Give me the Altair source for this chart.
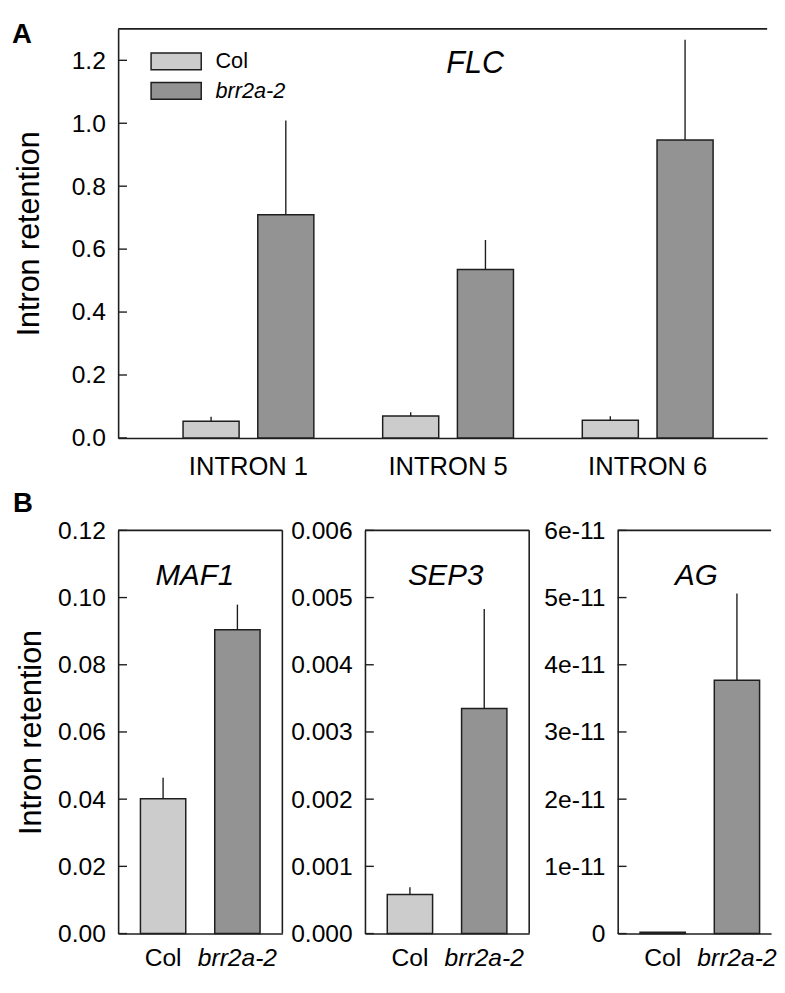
import altair as alt
import pandas as pd

# ---------------- data ----------------
genotypes = ["Col", "brr2a-2"]
introns = ["INTRON 1", "INTRON 5", "INTRON 6"]

flc_col = [0.053, 0.070, 0.056]
flc_col_err = [0.014, 0.012, 0.013]
flc_brr = [0.709, 0.535, 0.947]
flc_brr_err = [0.300, 0.094, 0.318]
flc_ticks = [0.0, 0.2, 0.4, 0.6, 0.8, 1.0, 1.2]

maf1_vals = [0.0401, 0.0904]
maf1_err = [0.0063, 0.0075]
maf1_ticks = [0.0, 0.02, 0.04, 0.06, 0.08, 0.10, 0.12]

sep3_vals = [0.00058, 0.00335]
sep3_err = [0.00011, 0.00148]
sep3_ticks = [0.0, 0.001, 0.002, 0.003, 0.004, 0.005, 0.006]

ag_vals = [2e-13, 3.77e-11]
ag_err = [0.0, 1.29e-11]
ag_ticks = [0.0, 1e-11, 2e-11, 3e-11, 4e-11, 5e-11, 6e-11]

bar_colors = ["#cccccc", "#939393"]
INK = "#1e1e1e"
FONT = "Liberation Sans"
HA = 416
HB = 410

# ---------------- helpers ----------------
def frame(W, H, right=True):
    one = alt.Chart(pd.DataFrame({"k": [1]}))
    layers = [one.mark_rule(color=INK, strokeWidth=1.6).encode(
        x=alt.value(0), x2=alt.value(W), y=alt.value(0))]
    if right:
        layers.append(one.mark_rule(color=INK, strokeWidth=1.6).encode(
            x=alt.value(W), y=alt.value(0), y2=alt.value(H)))
    else:
        # open right side (the original figure is cropped there)
        layers.append(one.mark_rule(color="#ffffff", strokeWidth=4).encode(
            x=alt.value(W), y=alt.value(2), y2=alt.value(H - 2)))
    return layers


def label_text(txt, x, y, size=30, style="italic", weight="normal", align="center"):
    return alt.Chart(pd.DataFrame({"t": [txt]})).mark_text(
        fontSize=size, fontStyle=style, fontWeight=weight, font=FONT,
        align=align, baseline="alphabetic", color="#000000").encode(
        text="t:N", x=alt.value(x), y=alt.value(y))


def y_axis(ticks, title=None, fmt=None, expr=None, tpad=10):
    kw = dict(values=ticks, ticks=False, tickSize=0, labelPadding=13,
              labelFontSize=25, grid=False, domainColor=INK, domainWidth=1.6,
              title=title)
    if expr:
        kw["labelExpr"] = expr
    else:
        kw["format"] = fmt
    if title:
        kw.update(titleFontSize=31, titleFontWeight="normal", titlePadding=tpad)
    return alt.Axis(**kw)


# ---------------- panel A ----------------
WA = 660
rows = []
for i, intr in enumerate(introns):
    rows.append({"intron": intr, "genotype": "Col", "v": flc_col[i], "hi": flc_col[i] + flc_col_err[i]})
    rows.append({"intron": intr, "genotype": "brr2a-2", "v": flc_brr[i], "hi": flc_brr[i] + flc_brr_err[i]})
dfa = pd.DataFrame(rows)

ya = alt.Scale(domain=[0, 1.3], nice=False, zero=True)
xa = alt.Scale(domain=introns, paddingInner=0, paddingOuter=0.1256, align=0.608)
xoa = alt.Scale(domain=genotypes, paddingInner=0.25, paddingOuter=0.4605)
ax_ya = y_axis(flc_ticks, title="Intron retention", fmt=".1f", tpad=26)
ax_xa = alt.Axis(labelAngle=0, labelFontSize=26, labelPadding=16, title=None,
                 domainColor=INK, domainWidth=1.6, ticks=False, tickSize=0)

base_a = alt.Chart(dfa)
bars_a = base_a.mark_bar(stroke=INK, strokeWidth=1.5).encode(
    x=alt.X("intron:N", scale=xa, sort=introns, axis=ax_xa),
    xOffset=alt.XOffset("genotype:N", scale=xoa, sort=genotypes),
    y=alt.Y("v:Q", scale=ya, axis=ax_ya),
    color=alt.Color("genotype:N", sort=genotypes,
                    scale=alt.Scale(domain=genotypes, range=bar_colors),
                    legend=alt.Legend(title=None, orient="none", legendX=48, legendY=22,
                                      symbolType="M-3,-1H3V1H-3Z", symbolSize=289,
                                      symbolStrokeColor=INK, symbolStrokeWidth=1.5,
                                      symbolOpacity=1, labelFontSize=22, labelFont=FONT,
                                      labelColor="#000000",
                                      labelOffset=29, rowPadding=6, padding=0,
                                      labelFontStyle={"expr": "datum.label == 'brr2a-2' ? 'italic' : 'normal'"})),
)
err_a = base_a.mark_rule(color=INK, strokeWidth=1.4).encode(
    x=alt.X("intron:N", scale=xa, sort=introns, axis=ax_xa),
    xOffset=alt.XOffset("genotype:N", scale=xoa, sort=genotypes),
    y=alt.Y("v:Q", scale=ya, axis=ax_ya),
    y2="hi:Q",
)
ticks_a = alt.Chart(pd.DataFrame({"v": flc_ticks})).mark_rule(color=INK, strokeWidth=1.4).encode(
    y=alt.Y("v:Q", scale=ya, axis=ax_ya), x=alt.value(0), x2=alt.value(9))

panel_a = alt.layer(
    bars_a, err_a, ticks_a, *frame(WA, HA, right=False),
    label_text("FLC", 363, 45, size=31),
    label_text("A", -108, 14, size=28, style="normal", weight="bold", align="left"),
).properties(width=WA, height=HA)


# ---------------- panel B ----------------
def small_panel(name, vals, errs, ticks, ax_y, W, right=True,
                po=0.3, align=0.5, show_B=False, label_x=80):
    df = pd.DataFrame({"genotype": genotypes, "v": vals,
                       "hi": [a + b for a, b in zip(vals, errs)]})
    ys = alt.Scale(domain=[ticks[0], ticks[-1]], nice=False, zero=True)
    xs = alt.Scale(domain=genotypes, paddingInner=0.39, paddingOuter=po, align=align)
    ax_x = alt.Axis(labelAngle=0, labelFontSize=25, labelPadding=12, title=None,
                    domainColor=INK, domainWidth=1.6, ticks=False, tickSize=0,
                    labelFontStyle={"expr": "datum.value == 'brr2a-2' ? 'italic' : 'normal'"})
    base = alt.Chart(df)
    bars = base.mark_bar(stroke=INK, strokeWidth=1.5).encode(
        x=alt.X("genotype:N", scale=xs, sort=genotypes, axis=ax_x),
        y=alt.Y("v:Q", scale=ys, axis=ax_y),
        color=alt.Color("genotype:N", scale=alt.Scale(domain=genotypes, range=bar_colors), legend=None),
    )
    err = base.mark_rule(color=INK, strokeWidth=1.4).encode(
        x=alt.X("genotype:N", scale=xs, sort=genotypes, axis=ax_x),
        y=alt.Y("v:Q", scale=ys, axis=ax_y),
        y2="hi:Q",
    )
    tk = alt.Chart(pd.DataFrame({"v": ticks})).mark_rule(color=INK, strokeWidth=1.4).encode(
        y=alt.Y("v:Q", scale=ys, axis=ax_y), x=alt.value(0), x2=alt.value(9))
    layers = [bars, err, tk, *frame(W, HB, right=right), label_text(name, label_x, 56)]
    if show_B:
        layers.append(label_text("B", -107, -19, size=28, style="normal", weight="bold", align="left"))
    return alt.layer(*layers).properties(width=W, height=HB)


maf1 = small_panel("MAF1", maf1_vals, maf1_err, maf1_ticks,
                   y_axis(maf1_ticks, title="Intron retention", fmt=".2f", tpad=10),
                   167, show_B=True, label_x=78)
sep3 = small_panel("SEP3", sep3_vals, sep3_err, sep3_ticks,
                   y_axis(sep3_ticks, fmt=".3f"), 167, label_x=82)
ag = small_panel("AG", ag_vals, ag_err, ag_ticks,
                 y_axis(ag_ticks, expr="datum.value == 0 ? '0' : round(datum.value * 1e11) + 'e-11'"),
                 156, right=False, po=0.228, align=0.66, label_x=80)

panel_b = alt.hconcat(alt.hconcat(maf1, sep3, spacing=7), ag, spacing=13)

chart = alt.vconcat(panel_a, panel_b, spacing=11).properties(
    padding={"left": 4, "top": 5, "right": 0, "bottom": 0}
).configure(
    font=FONT
).configure_view(
    strokeWidth=0, stroke="transparent"
).configure_axis(
    labelFont=FONT, titleFont=FONT, labelColor="#000000", titleColor="#000000"
)

chart.save("out.html", embed_options={"renderer": "svg", "actions": False})
